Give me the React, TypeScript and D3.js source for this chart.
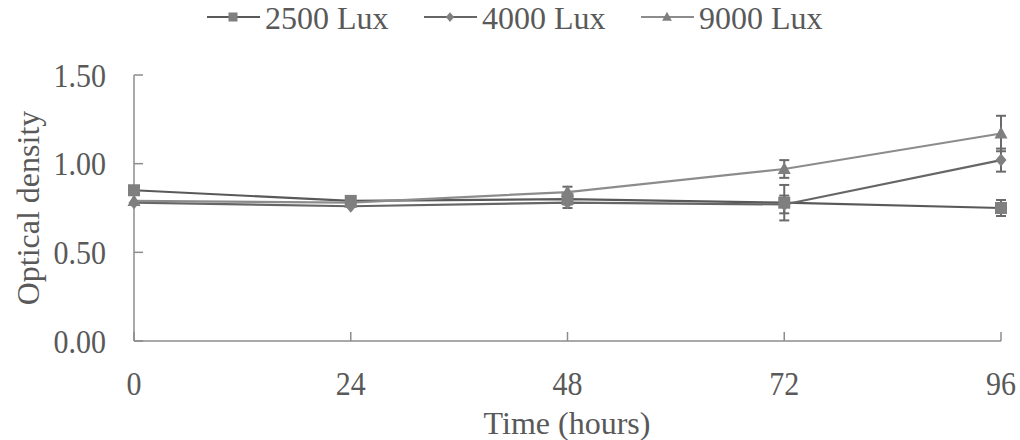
import React from "react";
import * as d3 from "d3";

const hours = [0, 24, 48, 72, 96];
const lux2500 = [0.85, 0.79, 0.8, 0.78, 0.75];
const lux2500Err = [0.0, 0.02, 0.03, 0.1, 0.045];
const lux4000 = [0.78, 0.76, 0.78, 0.77, 1.02];
const lux4000Err = [0.0, 0.0, 0.03, 0.05, 0.065];
const lux9000 = [0.79, 0.78, 0.84, 0.97, 1.17];
const lux9000Err = [0.0, 0.0, 0.03, 0.05, 0.1];
const yTicks = [0, 0.5, 1.0, 1.5];
const seriesNames = ["2500 Lux", "4000 Lux", "9000 Lux"];

const W = 1020;
const H = 440;
const FONT = "'Liberation Serif', 'Times New Roman', serif";

type Series = {
  name: string;
  values: number[];
  errs: number[];
  lineColor: string;
  marker: "square" | "diamond" | "triangle";
};

const series: Series[] = [
  { name: seriesNames[0], values: lux2500, errs: lux2500Err, lineColor: "#595959", marker: "square" },
  { name: seriesNames[1], values: lux4000, errs: lux4000Err, lineColor: "#666666", marker: "diamond" },
  { name: seriesNames[2], values: lux9000, errs: lux9000Err, lineColor: "#8c8c8c", marker: "triangle" },
];

const MARK = "#7f7f7f";
const AXIS = "#8c8c8c";
const TEXT = "#595959";

function Marker({ kind, x, y, s = 1 }: { kind: Series["marker"]; x: number; y: number; s?: number }) {
  if (kind === "square") {
    return <rect x={x - 6 * s} y={y - 6 * s} width={12 * s} height={12 * s} fill={MARK} />;
  }
  if (kind === "diamond") {
    return (
      <path
        d={`M${x},${y - 6.5 * s}L${x + 5.5 * s},${y}L${x},${y + 6.5 * s}L${x - 5.5 * s},${y}Z`}
        fill={MARK}
      />
    );
  }
  return <path d={`M${x},${y - 7 * s}L${x + 6.5 * s},${y + 5 * s}L${x - 6.5 * s},${y + 5 * s}Z`} fill={MARK} />;
}

// Tick label with the tall, narrow look of the axis numbers
function TickText({ x, y, anchor, children }: { x: number; y: number; anchor: string; children: React.ReactNode }) {
  return (
    <text
      transform={`translate(${x},${y}) scale(1,1.15)`}
      textAnchor={anchor}
      dominantBaseline="central"
      fontFamily={FONT}
      fontSize={30}
      fill={TEXT}
    >
      {children}
    </text>
  );
}

export default function App() {
  const x = d3.scaleLinear().domain([0, 96]).range([134, 1001]);
  const y = d3.scaleLinear().domain([0, 1.5]).range([341, 75]);
  const line = d3
    .line<number>()
    .x((_, i) => x(hours[i]))
    .y((d) => y(d));

  const legendItems = [
    { lineX: 207, textX: 265 },
    { lineX: 424, textX: 482 },
    { lineX: 641, textX: 699 },
  ];
  const legendY = 17;

  return (
    <svg width={W} height={H} style={{ position: "absolute", left: 0, top: 0, background: "#fff" }}>
      {/* axes */}
      <line x1={x(0)} x2={x(0)} y1={y(1.5)} y2={y(0)} stroke={AXIS} strokeWidth={1.5} />
      <line x1={x(0)} x2={x(96)} y1={y(0)} y2={y(0)} stroke={AXIS} strokeWidth={1.5} />
      {yTicks.map((t) => (
        <g key={t}>
          <line x1={x(0)} x2={x(0) + 9} y1={y(t)} y2={y(t)} stroke={AXIS} strokeWidth={1.5} />
          <TickText x={106} y={y(t)} anchor="end">
            {t.toFixed(2)}
          </TickText>
        </g>
      ))}
      {hours.map((h) => (
        <g key={h}>
          <line x1={x(h)} x2={x(h)} y1={y(0)} y2={y(0) - 9} stroke={AXIS} strokeWidth={1.5} />
          <TickText x={x(h)} y={383} anchor="middle">
            {h}
          </TickText>
        </g>
      ))}
      <text x={567} y={423} textAnchor="middle" dominantBaseline="central" fontFamily={FONT} fontSize={32} fill={TEXT}>
        Time (hours)
      </text>
      <text
        transform={`translate(28,${y(0.75)}) rotate(-90)`}
        textAnchor="middle"
        dominantBaseline="central"
        fontFamily={FONT}
        fontSize={32}
        fill={TEXT}
      >
        Optical density
      </text>

      {/* series lines */}
      {series.map((s) => (
        <path key={s.name} d={line(s.values) || ""} fill="none" stroke={s.lineColor} strokeWidth={2.2} />
      ))}
      {/* error bars */}
      {series.map((s) =>
        s.values.map((v, i) =>
          s.errs[i] > 0 ? (
            <g key={`${s.name}-e${i}`} stroke="#6a6a6a" strokeWidth={2}>
              <line x1={x(hours[i])} x2={x(hours[i])} y1={y(v + s.errs[i])} y2={y(v - s.errs[i])} />
              <line x1={x(hours[i]) - 5} x2={x(hours[i]) + 5} y1={y(v + s.errs[i])} y2={y(v + s.errs[i])} />
              <line x1={x(hours[i]) - 5} x2={x(hours[i]) + 5} y1={y(v - s.errs[i])} y2={y(v - s.errs[i])} />
            </g>
          ) : null
        )
      )}
      {/* markers */}
      {series.map((s) =>
        s.values.map((v, i) => <Marker key={`${s.name}-m${i}`} kind={s.marker} x={x(hours[i])} y={y(v)} />)
      )}

      {/* legend */}
      {series.map((s, i) => (
        <g key={`lg-${s.name}`}>
          <line
            x1={legendItems[i].lineX}
            x2={legendItems[i].lineX + 53}
            y1={legendY}
            y2={legendY}
            stroke={s.lineColor}
            strokeWidth={2.2}
          />
          <Marker kind={s.marker} x={legendItems[i].lineX + 26} y={legendY} s={0.75} />
          <text
            x={legendItems[i].textX}
            y={legendY + 1}
            dominantBaseline="central"
            fontFamily={FONT}
            fontSize={32}
            fill={TEXT}
          >
            {s.name}
          </text>
        </g>
      ))}
    </svg>
  );
}
